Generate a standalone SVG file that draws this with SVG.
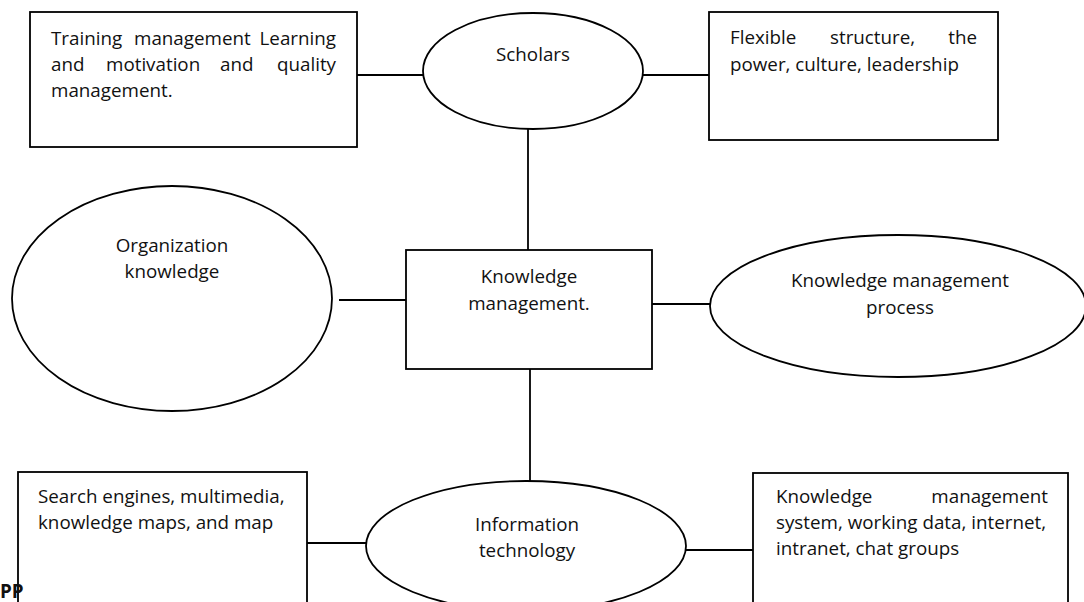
<svg xmlns="http://www.w3.org/2000/svg" width="1084" height="602" viewBox="0 0 1084 602">
<style>
.shape{fill:#fff;stroke:#000;stroke-width:1.8}
.conn line{stroke:#000;stroke-width:1.8}
text{font-family:"Open Sans","Liberation Sans",sans-serif;font-size:18.8px;fill:#111}
.c{text-anchor:middle}
.e{text-anchor:end}
</style>
<rect width="1084" height="602" fill="#fff"/>
<g id="connectors" class="conn">
<line x1="357" y1="75" x2="423" y2="75"/>
<line x1="643" y1="75" x2="709" y2="75"/>
<line x1="528" y1="129" x2="528" y2="250"/>
<line x1="339" y1="300" x2="406" y2="300"/>
<line x1="652" y1="304" x2="710" y2="304"/>
<line x1="530" y1="369" x2="530" y2="481"/>
<line x1="307" y1="543" x2="367" y2="543"/>
<line x1="686" y1="550" x2="753" y2="550"/>
</g>
<g id="training">
<rect class="shape" x="30" y="12" width="327" height="135"/>
<text y="45"><tspan x="51">Training</tspan><tspan x="134">management</tspan><tspan x="336" class="e">Learning</tspan></text>
<text y="71"><tspan x="51">and</tspan><tspan x="106">motivation</tspan><tspan x="220">and</tspan><tspan x="336" class="e">quality</tspan></text>
<text x="51" y="97">management.</text>
</g>
<g id="scholars">
<ellipse class="shape" cx="533" cy="71" rx="110" ry="58"/>
<text class="c" x="533" y="61">Scholars</text>
</g>
<g id="flexible">
<rect class="shape" x="709" y="12" width="289" height="128"/>
<text y="44"><tspan x="730">Flexible</tspan><tspan x="830">structure,</tspan><tspan x="977" class="e">the</tspan></text>
<text x="730" y="71">power, culture, leadership</text>
</g>
<g id="org-knowledge">
<ellipse class="shape" cx="172" cy="298.5" rx="160" ry="112.5"/>
<text class="c" x="172" y="252">Organization</text>
<text class="c" x="172" y="278">knowledge</text>
</g>
<g id="km">
<rect class="shape" x="406" y="250" width="246" height="119"/>
<text class="c" x="529" y="283">Knowledge</text>
<text class="c" x="529" y="310">management.</text>
</g>
<g id="km-process">
<ellipse class="shape" cx="898" cy="306" rx="188" ry="71"/>
<text class="c" x="900" y="287">Knowledge management</text>
<text class="c" x="900" y="314">process</text>
</g>
<g id="search">
<rect class="shape" x="18" y="472" width="289" height="150"/>
<text x="38" y="503">Search engines, multimedia,</text>
<text x="38" y="529">knowledge maps, and map</text>
</g>
<g id="it">
<ellipse class="shape" cx="526" cy="546" rx="160" ry="65"/>
<text class="c" x="527" y="531">Information</text>
<text class="c" x="527" y="557">technology</text>
</g>
<g id="kms">
<rect class="shape" x="753" y="473" width="315" height="150"/>
<text y="503"><tspan x="776">Knowledge</tspan><tspan x="1048" class="e">management</tspan></text>
<text x="776" y="529">system, working data, internet,</text>
<text x="776" y="555">intranet, chat groups</text>
</g>
<text x="0" y="598" font-family="Liberation Sans" font-weight="bold" font-size="11.5">PP</text>
</svg>
